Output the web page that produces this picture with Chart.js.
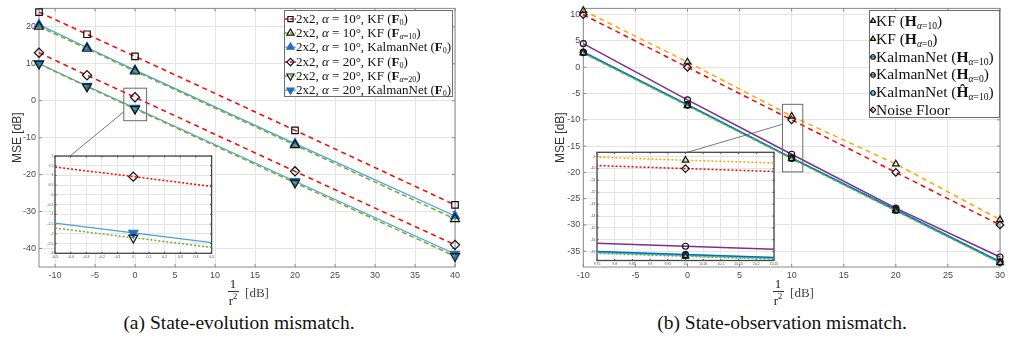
<!DOCTYPE html>
<html>
<head>
<meta charset="utf-8">
<script src="https://cdn.jsdelivr.net/npm/chart.js@4.4.0/dist/chart.umd.min.js"></script>
<style>
  body { margin: 0; background: #fff; }
  #fig { position: relative; width: 1015px; height: 340px; overflow: hidden; background: #fff;
         font-family: "Liberation Serif", "Times New Roman", serif; color: #111; }
  #fig > canvas { position: absolute; }
  .legend { position: absolute; background: #fff; border: 1px solid #6e6e6e; box-sizing: border-box; }
  .legend .row { display: flex; align-items: center; white-space: nowrap; }
  .legend canvas { flex: none; }
  .legend sub { font-size: 0.62em; vertical-align: -0.3em; line-height: 0; }
  .lbl { position: absolute; transform: translate(-50%, -50%); white-space: nowrap; color: #222; }
  .bar { position: absolute; height: 0; border-top: 1px solid #333; }
  .caption { position: absolute; width: 400px; text-align: center; font-size: 19.5px; color: #111; }
</style>
</head>
<body>
<div id="fig">
  <canvas id="mainA" width="470" height="292" style="left:0;top:0"></canvas>
  <canvas id="mainB" width="475" height="292" style="left:540px;top:0"></canvas>
  <canvas id="insetA" width="180" height="118" style="left:38px;top:148px"></canvas>
  <canvas id="insetB" width="200" height="124" style="left:580px;top:145px"></canvas>

  <div class="legend" id="legA" style="left:284px;top:10px;width:169px;height:87px;padding-top:1px;font-size:13px"></div>
  <div class="legend" id="legB" style="left:869px;top:10px;width:131px;height:108px;padding-top:1px;font-size:15.5px"></div>

  <!-- x axis labels: 1/r^2 [dB] -->
  <div class="lbl" style="left:233px;top:284px;font-size:13px">1</div>
  <div class="bar" style="left:228px;top:291px;width:11px"></div>
  <div class="lbl" style="left:233px;top:300px;font-size:13px">r<sup style="font-size:8.5px">2</sup></div>
  <div class="lbl" style="left:257px;top:293px;font-size:13px;color:#444">[dB]</div>

  <div class="lbl" style="left:778px;top:284px;font-size:13px">1</div>
  <div class="bar" style="left:773px;top:291px;width:11px"></div>
  <div class="lbl" style="left:778px;top:300px;font-size:13px">r<sup style="font-size:8.5px">2</sup></div>
  <div class="lbl" style="left:802px;top:293px;font-size:13px;color:#444">[dB]</div>

  <div class="caption" style="left:39px;top:312px">(a) State-evolution mismatch.</div>
  <div class="caption" style="left:582px;top:312px">(b) State-observation mismatch.</div>
</div>

<script>
/* ===== DATA: (a) state-evolution mismatch ===== */
const snrA = [-12, -6, 0, 20, 40];
const kfF0a10   = [24, 18, 12, -8, -28.2];
const kfFa10    = [20.1, 14.1, 8, -12, -32];
const knetF0a10 = [20.6, 14.4, 8.3, -11.6, -31.2];
const kfF0a20   = [13, 6.9, 0.94, -19.1, -39];
const kfFa20    = [10, 3.8, -2.2, -22.2, -42.1];
const knetF0a20 = [10.1, 4, -1.95, -21.8, -41.5];

/* ===== DATA: (b) state-observation mismatch ===== */
const snrB = [-10, 0, 10, 20, 30];
const kfH10      = [2.7, -7.3, -17.4, -27.3, -37.2];
const kfH0       = [10.8, 1.0, -9.3, -18.4, -29];
const knetH10    = [2.9, -7.1, -17.25, -27.1, -37];
const knetH0     = [4.5, -6.2, -16.55, -26.8, -36.1];
const knetHhat10 = [2.8, -7.2, -17.3, -27.2, -37.1];
const noiseFloor = [10, 0, -10, -20, -30];

/* ===== TICKS ===== */
const xTicksA = [-10, -5, 0, 5, 10, 15, 20, 25, 30, 35, 40];
const yTicksA = [-40, -30, -20, -10, 0, 10, 20];
const xTicksB = [-10, -5, 0, 5, 10, 15, 20, 25, 30];
const yTicksB = [-35, -30, -25, -20, -15, -10, -5, 0, 5, 10];
const xTicksInsetA = [-0.5, -0.4, -0.3, -0.2, -0.1, 0, 0.1, 0.2, 0.3, 0.4, 0.5];
const yTicksInsetA = [-3, -2.5, -2, -1.5, -1, -0.5, 0, 0.5, 1, 1.5, 2];
const xTicksInsetB = [9.75, 9.8, 9.85, 9.9, 9.95, 10, 10.05, 10.1, 10.15, 10.2, 10.25];
const yTicksInsetB = [-17, -16, -15, -14, -13, -12, -11, -10, -9];

/* ===== LEGEND TEXT ===== */
const labelsA = [
  '2x2, <i>α</i> = 10°, KF (<b>F</b><sub>0</sub>)',
  '2x2, <i>α</i> = 10°, KF (<b>F</b><sub><i>α</i>=10</sub>)',
  '2x2, <i>α</i> = 10°, KalmanNet (<b>F</b><sub>0</sub>)',
  '2x2, <i>α</i> = 20°, KF (<b>F</b><sub>0</sub>)',
  '2x2, <i>α</i> = 20°, KF (<b>F</b><sub><i>α</i>=20</sub>)',
  '2x2, <i>α</i> = 20°, KalmanNet (<b>F</b><sub>0</sub>)'
];
const labelsB = [
  'KF (<b>H</b><sub><i>α</i>=10</sub>)',
  'KF (<b>H</b><sub><i>α</i>=0</sub>)',
  'KalmanNet (<b>H</b><sub><i>α</i>=10</sub>)',
  'KalmanNet (<b>H</b><sub><i>α</i>=0</sub>)',
  'KalmanNet (<b>Ĥ</b><sub><i>α</i>=10</sub>)',
  'Noise Floor'
];

/* ===== STYLES ===== */
const RED = '#ff0000', GREEN = '#77ac30', LBLUE = '#4d9de0', MBLUE = '#1f6fba';
const GRID = '#e4e4e4', TICKC = '#4a4a4a';
const hollow = 'rgba(0,0,0,0)';

const stylesA = [
  { color: RED,   dash: [5, 4], width: 1.5, marker: 'rect',     rot: 0,   fill: hollow, edge: '#111', r: 4.6 },
  { color: GREEN, dash: [5, 3], width: 1.5, marker: 'triangle', rot: 0,   fill: hollow, edge: '#111', r: 5.2 },
  { color: LBLUE, dash: [],     width: 1.2, marker: 'triangle', rot: 0,   fill: MBLUE,  edge: MBLUE,  r: 5.2 },
  { color: RED,   dash: [5, 4], width: 1.5, marker: 'rectRot',  rot: 0,   fill: hollow, edge: '#111', r: 4.6 },
  { color: GREEN, dash: [5, 3], width: 1.5, marker: 'triangle', rot: 180, fill: hollow, edge: '#111', r: 5.2 },
  { color: LBLUE, dash: [],     width: 1.2, marker: 'triangle', rot: 180, fill: MBLUE,  edge: MBLUE,  r: 5.2 }
];
const stylesB = [
  { color: GREEN,     dash: [4, 3], width: 1.5, marker: 'triangle', rot: 0, fill: hollow, edge: '#111', r: 3.8 },
  { color: '#ffa500', dash: [5, 4], width: 1.5, marker: 'triangle', rot: 0, fill: hollow, edge: '#111', r: 3.8 },
  { color: '#0072bd', dash: [],     width: 1.5, marker: 'circle',   rot: 0, fill: hollow, edge: '#111', r: 3 },
  { color: '#7e2f8e', dash: [],     width: 1.5, marker: 'circle',   rot: 0, fill: hollow, edge: '#111', r: 3 },
  { color: '#4dbeee', dash: [],     width: 2,   marker: 'circle',   rot: 0, fill: hollow, edge: '#111', r: 3 },
  { color: RED,       dash: [5, 4], width: 1.5, marker: 'rectRot',  rot: 0, fill: hollow, edge: '#111', r: 3.8 }
];

const seriesA = [kfF0a10, kfFa10, knetF0a10, kfF0a20, kfFa20, knetF0a20];
const seriesB = [kfH10, kfH0, knetH10, knetH0, knetHhat10, noiseFloor];

Chart.defaults.font.family = '"Liberation Sans", Arial, Helvetica, sans-serif';
Chart.defaults.animation = false;

const fmt = v => String(+Number(v).toFixed(2));

function makeDatasets(xs, series, styles, labels, inset) {
  return series.map((ys, i) => {
    const s = styles[i];
    return {
      label: labels[i],
      data: xs.map((x, k) => ({ x: x, y: ys[k] })),
      showLine: true,
      borderColor: s.color,
      borderWidth: s.width,
      borderDash: inset && s.dash.length ? [2, 2] : s.dash,
      pointStyle: s.marker,
      rotation: s.rot,
      pointRadius: s.r,
      pointBackgroundColor: s.fill,
      pointBorderColor: s.edge,
      pointBorderWidth: 1.2,
      clip: inset ? true : false
    };
  });
}

function axes(o) {
  const tickCfg = {
    font: { size: o.fs }, color: TICKC, padding: o.tp,
    maxRotation: 0, minRotation: 0, autoSkip: false, callback: v => fmt(v)
  };
  return {
    x: {
      type: 'linear', min: o.xmin, max: o.xmax,
      afterFit: s => { s.height = o.xh; },
      afterBuildTicks: s => { s.ticks = o.xt.map(v => ({ value: v })); },
      grid: { color: GRID, drawTicks: false },
      border: { display: false },
      ticks: tickCfg
    },
    y: {
      type: 'linear', min: o.ymin, max: o.ymax,
      afterFit: s => { s.width = o.yw; },
      afterBuildTicks: s => { s.ticks = o.yt.map(v => ({ value: v })); },
      grid: { color: GRID, drawTicks: false },
      border: { display: false },
      ticks: tickCfg,
      title: o.title
        ? { display: true, text: 'MSE [dB]', color: '#333', font: { size: 12 }, padding: { top: o.titlePad, bottom: 0 } }
        : { display: false }
    }
  };
}

/* white plotting area for the magnified views */
const whiteArea = {
  id: 'whiteArea',
  beforeDraw(chart, args, o) {
    if (!o.on) return;
    const a = chart.chartArea, ctx = chart.ctx;
    ctx.save();
    ctx.fillStyle = '#fff';
    ctx.fillRect(a.left, a.top, a.right - a.left, a.bottom - a.top);
    ctx.restore();
  }
};

/* MATLAB-like box with inward ticks on all four sides */
const frame = {
  id: 'frame',
  beforeDatasetsDraw(chart, args, o) {
    const { ctx, chartArea: a, scales } = chart;
    ctx.save();
    ctx.strokeStyle = o.color;
    ctx.lineWidth = 1;
    ctx.beginPath();
    scales.x.ticks.forEach(t => {
      const px = scales.x.getPixelForValue(t.value);
      ctx.moveTo(px, a.bottom); ctx.lineTo(px, a.bottom - o.tick);
      ctx.moveTo(px, a.top); ctx.lineTo(px, a.top + o.tick);
    });
    scales.y.ticks.forEach(t => {
      const py = scales.y.getPixelForValue(t.value);
      ctx.moveTo(a.left, py); ctx.lineTo(a.left + o.tick, py);
      ctx.moveTo(a.right, py); ctx.lineTo(a.right - o.tick, py);
    });
    ctx.stroke();
    ctx.lineWidth = o.width;
    ctx.strokeRect(a.left, a.top, a.right - a.left, a.bottom - a.top);
    ctx.restore();
  }
};

/* zoom rectangle and the line leading to the magnified view */
const zoomBox = {
  id: 'zoomBox',
  afterDatasetsDraw(chart, args, o) {
    if (!o.box) return;
    const { ctx, scales: { x, y } } = chart;
    const x0 = x.getPixelForValue(o.box[0]), x1 = x.getPixelForValue(o.box[1]);
    const y0 = y.getPixelForValue(o.box[3]), y1 = y.getPixelForValue(o.box[2]);
    ctx.save();
    ctx.strokeStyle = '#6a6a6a';
    ctx.lineWidth = 1;
    ctx.strokeRect(x0, y0, x1 - x0, y1 - y0);
    ctx.strokeStyle = '#555';
    ctx.lineWidth = 0.8;
    ctx.beginPath();
    ctx.moveTo(x.getPixelForValue(o.from[0]), y.getPixelForValue(o.from[1]));
    ctx.lineTo(o.to[0] - chart.canvas.offsetLeft, o.to[1] - chart.canvas.offsetTop);
    ctx.stroke();
    ctx.restore();
  }
};

function makeChart(id, datasets, scales, padding, plug) {
  return new Chart(document.getElementById(id), {
    type: 'scatter',
    data: { datasets: datasets },
    options: {
      responsive: false,
      events: [],
      layout: { padding: padding },
      scales: scales,
      plugins: {
        legend: { display: false },
        tooltip: { enabled: false },
        whiteArea: { on: !!plug.white },
        frame: { color: plug.frameColor, width: plug.frameWidth, tick: plug.tick },
        zoomBox: plug.zoom || {}
      }
    },
    plugins: [whiteArea, frame, zoomBox]
  });
}

/* ===== (a) ===== */
makeChart('mainA',
  makeDatasets(snrA, seriesA, stylesA, labelsA, false),
  axes({ xmin: -12, xmax: 40, ymin: -45, ymax: 25, xt: xTicksA, yt: yTicksA, xh: 25, yw: 39, fs: 9, tp: 3, title: true, titlePad: 10 }),
  { left: 0, top: 8.3, right: 15, bottom: 0 },
  { frameColor: '#8a8a8a', frameWidth: 1, tick: 3,
    zoom: { box: [-1.4, 1.45, -5.4, 3.4], from: [-1.4, -3], to: [70, 156] } });

makeChart('insetA',
  makeDatasets(snrA, seriesA, stylesA, labelsA, true),
  axes({ xmin: -0.5, xmax: 0.5, ymin: -3, ymax: 2, xt: xTicksInsetA, yt: yTicksInsetA, xh: 12.7, yw: 17, fs: 3.6, tp: 1.5, title: false }),
  { left: 0, top: 8, right: 4, bottom: 0 },
  { white: true, frameColor: '#474747', frameWidth: 1.3, tick: 1.5 });

/* ===== (b) ===== */
makeChart('mainB',
  makeDatasets(snrB, seriesB, stylesB, labelsB, false),
  axes({ xmin: -10, xmax: 30, ymin: -38, ymax: 11.2, xt: xTicksB, yt: yTicksB, xh: 25, yw: 43.3, fs: 9, tp: 3, title: true, titlePad: 13 }),
  { left: 0, top: 6.7, right: 15, bottom: 0 },
  { frameColor: '#8a8a8a', frameWidth: 1, tick: 3,
    zoom: { box: [9.12, 11.07, -19.9, -7.05], from: [9.12, -10.85], to: [685, 153] } });

makeChart('insetB',
  makeDatasets(snrB, seriesB, stylesB, labelsB, true),
  axes({ xmin: 9.75, xmax: 10.25, ymin: -17.75, ymax: -8.63, xt: xTicksInsetB, yt: yTicksInsetB, xh: 8.5, yw: 17, fs: 3.4, tp: 1.5, title: false }),
  { left: 0, top: 7.3, right: 6, bottom: 0 },
  { white: true, frameColor: '#474747', frameWidth: 1.3, tick: 1.5 });

/* ===== LEGENDS ===== */
function buildLegend(id, labels, styles, o) {
  const box = document.getElementById(id);
  labels.forEach((html, i) => {
    const s = styles[i];
    const row = document.createElement('div');
    row.className = 'row';
    row.style.height = o.rowH + 'px';
    const c = document.createElement('canvas');
    c.width = o.sw; c.height = o.rowH;
    c.style.marginRight = o.gap + 'px';
    const ctx = c.getContext('2d');
    const cy = o.rowH / 2;
    ctx.strokeStyle = s.color;
    ctx.lineWidth = s.width;
    ctx.setLineDash(s.dash.length ? [3, 2] : []);
    ctx.beginPath(); ctx.moveTo(0, cy); ctx.lineTo(o.sw, cy); ctx.stroke();
    ctx.setLineDash([]);
    ctx.fillStyle = s.fill;
    ctx.strokeStyle = s.edge;
    ctx.lineWidth = 1.2;
    Chart.helpers.drawPoint(ctx, { pointStyle: s.marker, rotation: s.rot, radius: s.r * o.scale, borderWidth: 1.2 }, o.sw / 2, cy);
    const t = document.createElement('span');
    t.innerHTML = html;
    row.append(c, t);
    box.append(row);
  });
}

buildLegend('legA', labelsA, stylesA, { rowH: 14.2, sw: 11, gap: 0, scale: 0.8 });
buildLegend('legB', labelsB, stylesB, { rowH: 17.8, sw: 6, gap: 0, scale: 0.75 });
</script>
</body>
</html>
